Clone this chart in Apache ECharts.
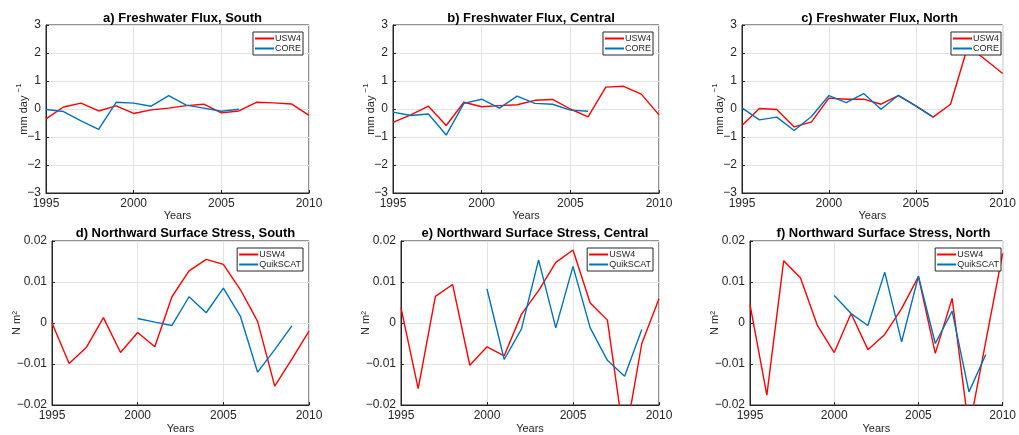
<!DOCTYPE html>
<html>
<head>
<meta charset="utf-8">
<script src="https://cdn.jsdelivr.net/npm/echarts@6/dist/echarts.min.js"></script>
<style>
html,body{margin:0;padding:0;background:#fff;}
#chart{width:1019px;height:435px;}
</style>
</head>
<body>
<div id="chart"></div>
<script>
// ---- data ----
var years = [1995,1996,1997,1998,1999,2000,2001,2002,2003,2004,2005,2006,2007,2008,2009,2010];
var yearsCORE = [1995,1996,1997,1998,1999,2000,2001,2002,2003,2004,2005,2006];
var yearsQS = [2000,2001,2002,2003,2004,2005,2006,2007,2008,2009];

var fluxSouthUSW4   = [-0.35,0.07,0.21,-0.07,0.11,-0.16,-0.03,0.03,0.12,0.17,-0.14,-0.07,0.24,0.22,0.18,-0.23];
var fluxSouthCORE   = [-0.02,-0.09,-0.42,-0.73,0.24,0.21,0.10,0.48,0.14,0.03,-0.08,-0.01];
var fluxCentralUSW4 = [-0.48,-0.21,0.10,-0.59,0.24,0.08,0.12,0.15,0.31,0.34,0.00,-0.28,0.78,0.81,0.53,-0.21];
var fluxCentralCORE = [-0.11,-0.23,-0.18,-0.93,0.20,0.35,0.03,0.46,0.20,0.17,-0.04,-0.08];
var fluxNorthUSW4   = [-0.59,0.02,-0.02,-0.64,-0.46,0.39,0.35,0.35,0.17,0.48,0.11,-0.29,0.17,2.25,1.77,1.27];
var fluxNorthCORE   = [0.04,-0.39,-0.29,-0.77,-0.27,0.48,0.23,0.55,-0.01,0.49,0.11,-0.29];

var stressSouthUSW4   = [0.0000,-0.0099,-0.0060,0.0013,-0.0072,-0.0023,-0.0058,0.0064,0.0127,0.0155,0.0143,0.0081,0.0004,-0.0154,-0.0088,-0.0020];
var stressSouthQS     = [0.0011,0.0002,-0.0006,0.0064,0.0025,0.0085,0.0016,-0.0120,-0.0065,-0.0007];
var stressCentralUSW4 = [0.0037,-0.0160,0.0065,0.0094,-0.0103,-0.0058,-0.0080,0.0021,0.0079,0.0148,0.0178,0.0049,0.0007,-0.0290,-0.0050,0.0059];
var stressCentralQS   = [0.0083,-0.0089,-0.0015,0.0154,-0.0012,0.0138,-0.0012,-0.0091,-0.0130,-0.0016];
var stressNorthUSW4   = [0.0045,-0.0176,0.0152,0.0110,-0.0006,-0.0072,0.0023,-0.0065,-0.0028,0.0035,0.0113,-0.0074,0.0060,-0.0260,-0.0045,0.0170];
var stressNorthQS     = [0.0067,0.0023,-0.0006,0.0124,-0.0046,0.0114,-0.0050,0.0029,-0.0168,-0.0077];

var titles = ['a) Freshwater Flux, South','b) Freshwater Flux, Central','c) Freshwater Flux, North',
              'd) Northward Surface Stress, South','e) Northward Surface Stress, Central','f) Northward Surface Stress, North'];
var xName = 'Years';
var fluxName = '{t|mm day }{s|\u22121}';
var stressName = 'N m\u00B2';

// ---- layout ----
var FONT = '"Liberation Sans", Arial, Helvetica, sans-serif';
var TXT = '#262626';
var RED = '#ff0000', BLUE = '#0072bd';
var grids = [
  {left:46, top:25, width:263, height:168},
  {left:393, top:25, width:266, height:168},
  {left:742, top:25, width:265, height:168},
  {left:52, top:241, width:257, height:168},
  {left:401, top:241, width:258, height:168},
  {left:750, top:241, width:257, height:168}
];

function pairs(xs, vs){ return xs.map(function(x,i){ return [x, vs[i]]; }); }
function fmtFlux(v){ return String(v).replace('-', '\u2212'); }
function fmtStress(v){ if (Math.abs(v) < 1e-9) return '0'; return v.toFixed(2).replace('-', '\u2212'); }

var option = {
  backgroundColor:'#fff',
  animation:false,
  title:[], grid:[], xAxis:[], yAxis:[], legend:[], series:[]
};

var seriesData = [
  [fluxSouthUSW4, fluxSouthCORE],
  [fluxCentralUSW4, fluxCentralCORE],
  [fluxNorthUSW4, fluxNorthCORE],
  [stressSouthUSW4, stressSouthQS],
  [stressCentralUSW4, stressCentralQS],
  [stressNorthUSW4, stressNorthQS]
];

grids.forEach(function(g, i){
  var isFlux = i < 3;
  option.grid.push({left:g.left, top:g.top, width:g.width, height:g.height, show:true,
    borderColor:TXT, borderWidth:1, backgroundColor:'#fff', containLabel:false});
  option.title.push({text:titles[i], left:g.left + g.width/2, top:g.top - (isFlux ? 18 : 19), textAlign:'center',
    textStyle:{fontFamily:FONT, fontSize:13, fontWeight:'bold', color:'#000'}});
  option.xAxis.push({type:'value', gridIndex:i, min:1995, max:2010, interval:5,
    name:xName, nameLocation:'middle', nameGap:isFlux ? 17 : 18, nameMoveOverlap:false,
    nameTextStyle:{fontFamily:FONT, fontSize:11, color:TXT},
    axisLine:{show:true, onZero:false, lineStyle:{color:TXT, width:1}},
    axisTick:{show:true, inside:true, length:3, lineStyle:{color:TXT}},
    axisLabel:{fontFamily:FONT, fontSize:12, color:TXT, margin:5, formatter:function(v){return String(v);}},
    splitLine:{show:true, lineStyle:{color:'#e3e3e3', width:1}}
  });
  option.yAxis.push({type:'value', gridIndex:i,
    min:isFlux ? -3 : -0.02, max:isFlux ? 3 : 0.02, interval:isFlux ? 1 : 0.01,
    name:isFlux ? fluxName : stressName, nameLocation:'middle', nameRotate:90,
    nameGap:isFlux ? 14 : 30, nameMoveOverlap:false,
    nameTextStyle:{fontFamily:FONT, fontSize:11, color:TXT,
      rich:{t:{fontFamily:FONT, fontSize:11, color:TXT}, s:{fontFamily:FONT, fontSize:8, color:TXT, verticalAlign:'bottom', padding:[0,0,9,0]}}},
    axisLine:{show:true, onZero:false, lineStyle:{color:TXT, width:1}},
    axisTick:{show:true, inside:true, length:3, lineStyle:{color:TXT}},
    axisLabel:{fontFamily:FONT, fontSize:12, color:TXT, margin:5, formatter:isFlux ? fmtFlux : fmtStress},
    splitLine:{show:true, lineStyle:{color:'#e3e3e3', width:1}}
  });
  var secondName = isFlux ? 'CORE' : 'QuikSCAT';
  var secondYears = isFlux ? yearsCORE : yearsQS;
  option.series.push({type:'line', name:'USW4', xAxisIndex:i, yAxisIndex:i,
    data:pairs(years, seriesData[i][0]), showSymbol:false, symbol:'none', clip:true,
    lineStyle:{color:RED, width:1.4}, itemStyle:{color:RED}, z:3});
  option.series.push({type:'line', name:secondName, xAxisIndex:i, yAxisIndex:i,
    data:pairs(secondYears, seriesData[i][1]), showSymbol:false, symbol:'none', clip:true,
    lineStyle:{color:BLUE, width:1.4}, itemStyle:{color:BLUE}, z:3});
  option.legend.push({data:['USW4', secondName], orient:'vertical',
    right:1019 - (g.left + g.width) + 6, top:g.top + 7,
    backgroundColor:'#fff', borderColor:TXT, borderWidth:1, padding:[2,2,2,2],
    itemWidth:19, itemHeight:2, itemGap:1, icon:'rect', selectedMode:false, z:10,
    textStyle:{fontFamily:FONT, fontSize:9, color:TXT, padding:[0,0,0,-4]}});
});

var chart = echarts.init(document.getElementById('chart'), null, {renderer:'canvas'});
chart.setOption(option);
</script>
</body>
</html>
